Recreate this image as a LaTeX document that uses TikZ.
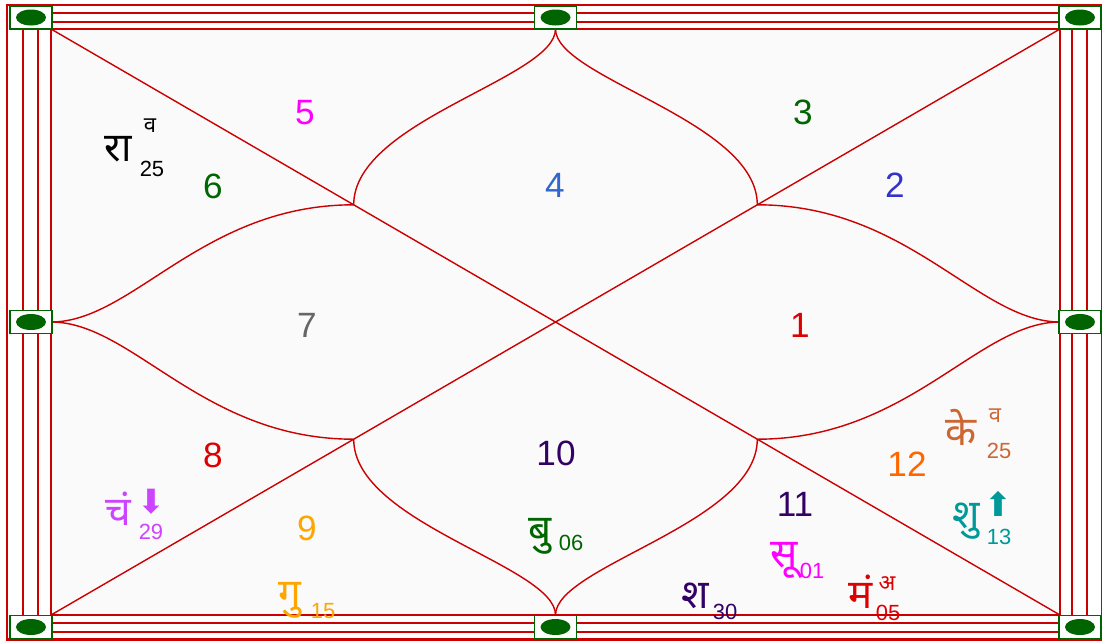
\documentclass[tikz,border=0pt]{standalone}
\usepackage{fontspec}
\setmainfont{Liberation Sans}
\newfontfamily\hindi[Script=Devanagari]{Noto Sans}
\newfontfamily\symb{DejaVu Sans}
\usetikzlibrary{calc}

\definecolor{chartred}{HTML}{CC0000}
\definecolor{peggreen}{HTML}{006400}
\definecolor{paper}{HTML}{FAFAFA}
\definecolor{hred}{HTML}{DD0000}
\definecolor{hblue}{HTML}{3333CC}
\definecolor{hsky}{HTML}{3366CC}
\definecolor{hgreen}{HTML}{006600}
\definecolor{hmagenta}{HTML}{FF00FF}
\definecolor{hgray}{HTML}{666666}
\definecolor{horange}{HTML}{FFA500}
\definecolor{hpurple}{HTML}{330066}
\definecolor{hflame}{HTML}{FF6600}
\definecolor{hviolet}{HTML}{CC44FF}
\definecolor{hsienna}{HTML}{CC6633}
\definecolor{hteal}{HTML}{009999}

\begin{document}
\begin{tikzpicture}[
  x=0.02cm, y=-0.02cm,
  frame/.style={draw=chartred, line width=1.1pt},
  chart/.style={draw=chartred, line width=0.8pt},
  peg/.style={draw=peggreen, line width=1.1pt, fill=white, minimum width=0.84cm, minimum height=0.46cm, inner sep=0pt,
    path picture={\fill[peggreen] (path picture bounding box.center) ellipse (0.3cm and 0.16cm);}},
  num/.style={font=\fontsize{20}{20}\selectfont, anchor=base},
  graha/.style={font=\hindi\fontsize{23}{23}\selectfont, anchor=base, inner sep=0.5pt},
  deg/.style={font=\fontsize{12.5}{12.5}\selectfont, anchor=base, inner sep=0.5pt},
  avastha/.style={font=\hindi\fontsize{12.5}{12.5}\selectfont, anchor=base, inner sep=0.5pt},
  dirn/.style={font=\symb\fontsize{19}{19}\selectfont, anchor=center, inner sep=0pt}
]
\useasboundingbox (0,0) rectangle (1102,640);
\fill[white] (0,0) rectangle (1102,640);

% border
\draw[frame, line width=1.7pt] (7,5) rectangle (1102,639);
\draw[frame] (23,13) rectangle (1087,632);
\draw[frame] (38,22) rectangle (1072,623);
\draw[frame, fill=paper] (51,29) rectangle (1060,615);

% chart points
\coordinate (tl) at (51,29);
\coordinate (tr) at (1060,29);
\coordinate (bl) at (51,615);
\coordinate (br) at (1060,615);
\coordinate (tm) at (555.5,29);
\coordinate (bm) at (555.5,615);
\coordinate (lm) at (51,322);
\coordinate (rm) at (1060,322);
\coordinate (c) at (555.5,322);
\coordinate (ia) at ($(tl)!0.6!(c)$);
\coordinate (ib) at ($(tr)!0.6!(c)$);
\coordinate (ic) at ($(bl)!0.6!(c)$);
\coordinate (id) at ($(br)!0.6!(c)$);

\draw[chart] (tl) -- (br);
\draw[chart] (bl) -- (tr);
\foreach \m/\p in {tm/ia, tm/ib, bm/ic, bm/id}
  \draw[chart] (\m) .. controls ($(\m)!0.28!(\m|-\p)$) and ($(\p)!0.48!(\p|-\m)$) .. (\p);
\foreach \m/\p in {lm/ia, lm/ic, rm/ib, rm/id}
  \draw[chart] (\m) .. controls ($(\m)!0.27!(\m-|\p)$) and ($(\p)!0.5!(\p-|\m)$) .. (\p);

% pegs
\foreach \nm/\px/\py in {tl/31/17.5, tm/555.5/17.5, tr/1080/17.5, lm/31/322, rm/1080/322, bl/31/627, bm/555.5/627, br/1080/627}
  \node[peg] (peg-\nm) at (\px,\py) {};

% house numbers
\node[num, text=hred] (h1) at (800,337) {1};
\node[num, text=hblue] (h2) at (895,197) {2};
\node[num, text=hgreen] (h3) at (803,124) {3};
\node[num, text=hsky] (h4) at (555,197) {4};
\node[num, text=hmagenta] (h5) at (305,124) {5};
\node[num, text=hgreen] (h6) at (213,198) {6};
\node[num, text=hgray] (h7) at (307,337) {7};
\node[num, text=hred] (h8) at (213,467) {8};
\node[num, text=horange] (h9) at (307,540) {9};
\node[num, text=hpurple] (h10) at (556,465) {10};
\node[num, text=hpurple] (h11) at (795,516) {11};
\node[num, text=hflame] (h12) at (907,476) {12};

% planets
\node[graha, text=black] (rahu) at (118,161) {रा};
\node[avastha, text=black] (rahu-v) at (150,132) {व};
\node[deg, text=black] (rahu-d) at (152,176) {25};

\node[graha, text=hviolet] (chandra) at (118,525) {चं};
\node[dirn, text=hviolet] (chandra-a) at (151,502) {⬇};
\node[deg, text=hviolet] (chandra-d) at (151,539) {29};

\node[graha, text=horange] (guru) at (290,607) {गु};
\node[deg, text=horange] (guru-d) at (323,618) {15};

\node[graha, text=hgreen] (budh) at (540,543) {बु};
\node[deg, text=hgreen] (budh-d) at (571,550) {06};

\node[graha, text=hpurple] (shani) at (695,608) {श};
\node[deg, text=hpurple] (shani-d) at (725,619) {30};

\node[graha, text=hmagenta] (surya) at (784,567) {सू};
\node[deg, text=hmagenta] (surya-d) at (812,578) {01};

\node[graha, text=hred] (mangal) at (861,608) {मं};
\node[avastha, text=hred] (mangal-v) at (887,590) {अ};
\node[deg, text=hred] (mangal-d) at (888,620) {05};

\node[graha, text=hsienna] (ketu) at (961,445) {के};
\node[avastha, text=hsienna] (ketu-v) at (995,422) {व};
\node[deg, text=hsienna] (ketu-d) at (999,458) {25};

\node[graha, text=hteal] (shukra) at (966,528) {शु};
\node[dirn, text=hteal] (shukra-a) at (998,504) {⬆};
\node[deg, text=hteal] (shukra-d) at (999,544) {13};
\end{tikzpicture}
\end{document}
